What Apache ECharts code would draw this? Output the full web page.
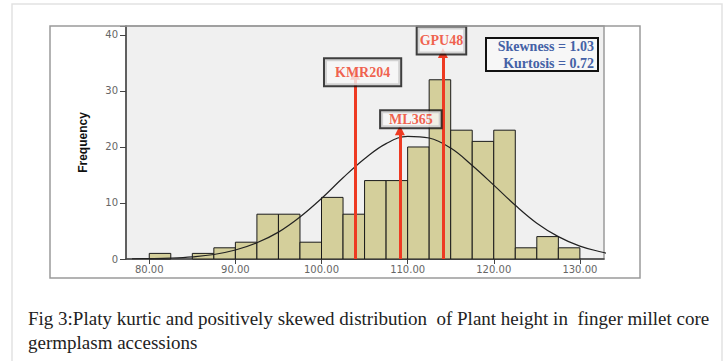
<!DOCTYPE html>
<html>
<head>
<meta charset="utf-8">
<script src="https://cdn.jsdelivr.net/npm/echarts@6/dist/echarts.min.js"></script>
<style>
html,body{margin:0;padding:0;background:#fff;}
#chart{width:728px;height:361px;}
</style>
</head>
<body>
<div id="chart"></div>
<script>
// ---- data ----
const binEdges = [80, 82.5, 85, 87.5, 90, 92.5, 95, 97.5, 100, 102.5, 105, 107.5, 110, 112.5, 115, 117.5, 120, 122.5, 125, 127.5, 130];
const counts   = [1, 0, 1, 2, 3, 8, 8, 3, 11, 8, 14, 14, 20, 32, 23, 21, 23, 2, 4, 2];
const curveX = [78, 80, 82.5, 85, 87.5, 90, 92.5, 95, 97.5, 100, 102.5, 105, 107.5, 110, 112.5, 115, 117.5, 120, 122.5, 125, 127.5, 130, 132.5, 134];
const curveY = [0.03, 0.07, 0.17, 0.39, 0.8, 1.6, 2.9, 4.8, 7.5, 10.8, 14.5, 17.9, 20.6, 21.9, 21.6, 19.8, 16.7, 13.2, 9.6, 6.4, 4.0, 2.3, 1.25, 0.8];
const xTicks = [80, 90, 100, 110, 120, 130];
const yTicks = [0, 10, 20, 30, 40];
const markNames = ['KMR204', 'ML365', 'GPU48'];
const markX = [103.9, 109.1, 114.1];
const markTop = [32.9, 23.0, 36.8];
const statLines = ['Skewness = 1.03', 'Kurtosis = 0.72'];
const caption = ['Fig 3:Platy kurtic and positively skewed distribution  of Plant height in  finger millet core', 'germplasm accessions'];

// ---- layout ----
const labelOffsets = [[7.5, -2.5], [11, -11], [-1.5, -12.5]];
const labelPads = [[6, 10], [1, 8], [6, 2]];

const chart = echarts.init(document.getElementById('chart'), null, {renderer: 'svg'});

const histData = counts.map((c, i) => [binEdges[i], binEdges[i + 1], c]);

const option = {
  animation: false,
  backgroundColor: '#ffffff',
  grid: {
    left: 126, right: 124, top: 26, bottom: 102,
    show: true, backgroundColor: '#f0f0f0', borderColor: '#9a9a9a', borderWidth: 1.5
  },
  xAxis: {
    type: 'value', min: 77.3, max: 132.8,
    axisLine: {show: true, onZero: false, lineStyle: {color: '#444', width: 1.5}},
    axisTick: {show: true, customValues: xTicks, length: 5, lineStyle: {color: '#444'}},
    axisLabel: {
      show: true, customValues: xTicks, margin: 5,
      formatter: v => Number(v).toFixed(2),
      color: '#666', fontFamily: 'DejaVu Sans', fontSize: 10
    },
    splitLine: {show: false}
  },
  yAxis: {
    type: 'value', min: 0, max: 41.6, interval: 10,
    name: 'Frequency', nameLocation: 'middle', nameGap: 37, nameRotate: 90,
    nameTextStyle: {fontFamily: '"Liberation Sans Narrow", "Arial Narrow", "Liberation Sans", sans-serif', fontWeight: 'bold', fontSize: 12, color: '#111'},
    axisLine: {show: true, lineStyle: {color: '#444', width: 1.5}},
    axisTick: {show: true, length: 6, lineStyle: {color: '#444'}},
    axisLabel: {
      show: true, margin: 8, color: '#666', fontFamily: 'DejaVu Sans', fontSize: 10,
      formatter: v => (yTicks.indexOf(v) >= 0 ? String(v) : '')
    },
    splitLine: {show: false}
  },
  series: [
    {
      type: 'custom',
      data: histData,
      z: 2,
      renderItem: function (params, api) {
        const x0 = api.value(0), x1 = api.value(1), c = api.value(2);
        if (!c) return null;
        const p0 = api.coord([x0, c]);
        const p1 = api.coord([x1, 0]);
        return {
          type: 'rect',
          shape: {x: p0[0], y: p0[1], width: p1[0] - p0[0], height: p1[1] - p0[1]},
          style: {fill: '#d4cf9b', stroke: '#1a1a1a', lineWidth: 1}
        };
      }
    },
    {
      type: 'line',
      data: curveX.map((x, i) => [x, curveY[i]]),
      smooth: 0.4,
      showSymbol: false,
      clip: true,
      z: 3,
      lineStyle: {color: '#222', width: 1.2}
    },
    {
      type: 'lines',
      coordinateSystem: 'cartesian2d',
      z: 4,
      symbol: ['none', 'triangle'],
      symbolSize: [9, 10],
      lineStyle: {color: '#ee3a22', width: 3, opacity: 1},
      data: markX.map((x, i) => ({coords: [[x, 0], [x, markTop[i]]]}))
    },
    {
      type: 'scatter',
      z: 5,
      symbolSize: 0,
      silent: true,
      data: markX.map((x, i) => ({
        value: [x, markTop[i]],
        name: markNames[i],
        label: {offset: labelOffsets[i], padding: labelPads[i]}
      })),
      label: {
        show: true, position: 'inside',
        formatter: p => p.name,
        color: '#ee3a22', fontFamily: '"Liberation Serif", "Times New Roman", serif',
        fontWeight: 'bold', fontSize: 14,
        textBorderWidth: 0, textBorderColor: 'transparent',
        backgroundColor: '#f7f7f7', borderColor: '#111', borderWidth: 2
      }
    }
  ],
  graphic: [
    {type: 'rect', shape: {x: 12, y: 4, width: 710, height: 380}, style: {fill: 'none', stroke: '#e2e2e2', lineWidth: 1.5}, z: -10},
    {type: 'rect', shape: {x: 50, y: 26, width: 590, height: 252}, style: {fill: 'none', stroke: '#9a9a9a', lineWidth: 1.5}, z: 10},
    {type: 'rect', shape: {x: 486, y: 38, width: 112, height: 33}, style: {fill: '#f7f7f7', stroke: '#111', lineWidth: 2}, z: 20},
    {type: 'text', x: 594, y: 46, z: 21, style: {text: statLines[0], textAlign: 'right', textVerticalAlign: 'middle', fill: '#4461a6', font: 'bold 14px "Liberation Serif", serif'}},
    {type: 'text', x: 594, y: 63, z: 21, style: {text: statLines[1], textAlign: 'right', textVerticalAlign: 'middle', fill: '#4461a6', font: 'bold 14px "Liberation Serif", serif'}},
    {type: 'text', x: 28, y: 318, z: 21, style: {text: caption[0], textAlign: 'left', textVerticalAlign: 'middle', fill: '#222', font: '19px "Liberation Serif", serif'}},
    {type: 'text', x: 28, y: 342, z: 21, style: {text: caption[1], textAlign: 'left', textVerticalAlign: 'middle', fill: '#222', font: '19px "Liberation Serif", serif'}}
  ]
};

chart.setOption(option);
</script>
</body>
</html>
